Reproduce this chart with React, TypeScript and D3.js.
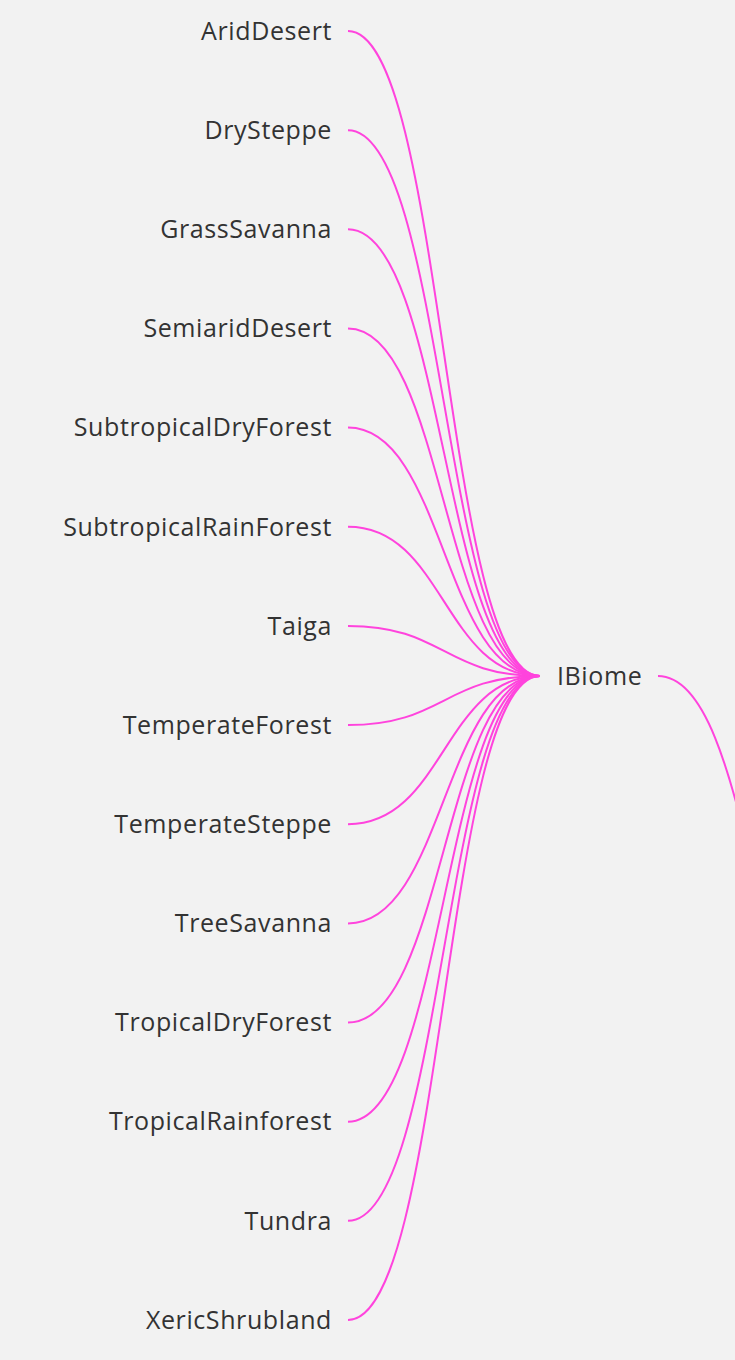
import React from 'react';
import * as d3 from 'd3';

const leaves = [
  'AridDesert', 'DrySteppe', 'GrassSavanna', 'SemiaridDesert', 'SubtropicalDryForest',
  'SubtropicalRainForest', 'Taiga', 'TemperateForest', 'TemperateSteppe', 'TreeSavanna',
  'TropicalDryForest', 'TropicalRainforest', 'Tundra', 'XericShrubland',
];
const rootName = 'IBiome';

const W = 735;
const H = 1360;
const pink = '#ff44dd';

const App: React.FC = () => {
  const y = d3.scalePoint<string>().domain(leaves).range([31, 1320]);
  const link = d3.linkHorizontal<any, [number, number]>().source(d => d.s).target(d => d.t);
  const leafX = 348;
  const rootX = 540;
  const rootY = 676;
  const parent: [number, number] = [850, 1070];

  return (
    <svg width={W} height={H} style={{ position: 'absolute', left: 0, top: 0 }}
      fontFamily="'Open Sans', sans-serif">
      <rect width={W} height={H} fill="#f2f2f2" />
      {leaves.map(name => (
        <g key={name}>
          <path d={link({ s: [leafX, y(name)!], t: [rootX, rootY] }) || ''}
            fill="none" stroke={pink} strokeWidth={2} />
          <text x={332} y={y(name)!} dy="0.35em" textAnchor="end" fontSize={25}
            letterSpacing={0.6} fill="#333">{name}</text>
        </g>
      ))}
      <path d={link({ s: [658, rootY], t: parent }) || ''} fill="none" stroke={pink} strokeWidth={2} />
      <text x={557} y={rootY} dy="0.35em" fontSize={25} letterSpacing={0.6} fill="#333">{rootName}</text>
    </svg>
  );
};

export default App;
